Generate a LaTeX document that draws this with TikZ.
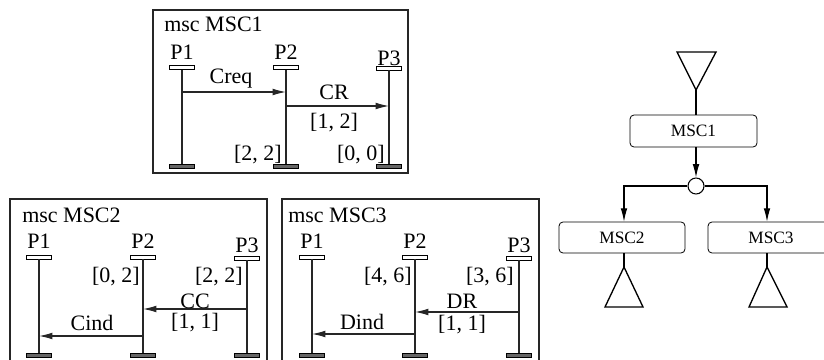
\documentclass[tikz,border=0pt]{standalone}
\usepackage{fontspec}
\setmainfont{Liberation Serif}
\usetikzlibrary{arrows.meta}
\begin{document}
\begin{tikzpicture}[x=0.75pt,y=-0.75pt,
  lbl/.style={font=\fontsize{16.5}{18}\selectfont, inner sep=0},
  frame/.style={draw=black!85, line width=0.8pt},
  headbar/.style={draw, fill=white, minimum width=18.75pt, minimum height=3pt, inner sep=0, line width=0.6pt},
  endbar/.style={draw, fill=black!60, minimum width=18.75pt, minimum height=3pt, inner sep=0, line width=0.6pt},
  life/.style={line width=0.8pt, draw=black!85},
  msg/.style={line width=0.8pt, draw=black!85, -{Latex[length=10pt,width=5pt]}},
  hbox/.style={draw, rounded corners=3pt, font=\fontsize{13}{15}\selectfont, inner sep=0, line width=0.6pt},
  harrow/.style={line width=0.8pt, -{Latex[length=10pt,width=5pt]}},
  hline/.style={line width=0.8pt},
  tri/.style={line width=1pt, line join=miter}
]
\useasboundingbox (0,0) rectangle (824,360);

% ---------------- MSC1 ----------------
\draw[frame] (153,10) rectangle (408,173);
\node[lbl, anchor=base west] (t1) at (164,32) {msc MSC1};
\foreach \n/\x/\yl/\yh in {p1/182/60/67.5, p2/286/60/67.5, p3/389/65/68}{
  \node[lbl, anchor=base] (a\n l) at (\x,\yl) {\MakeUppercase{\n}};
  \node[headbar] (a\n h) at (\x,\yh) {};
  \node[endbar] (a\n e) at (\x,166) {};
  \draw[life] (a\n h.south) -- (a\n e.north);
}
\coordinate (a1s) at (182,92);
\coordinate (a1t) at (286,92);
\draw[msg] (a1s) -- (a1t);
\node[lbl, anchor=base] (creq) at (231,84) {Creq};
\coordinate (a2s) at (286,106);
\coordinate (a2t) at (389,106);
\draw[msg] (a2s) -- (a2t);
\node[lbl, anchor=base] (cr) at (334,99) {CR};
\node[lbl, anchor=base] (cr2) at (334,128) {[1, 2]};
\node[lbl, anchor=base east] (c22) at (282,160) {[2, 2]};
\node[lbl, anchor=base east] (c00) at (385,160) {[0, 0]};

% ---------------- MSC2 ----------------
\draw[frame] (10,362) -- (10,199) -- (267,199) -- (267,362);
\node[lbl, anchor=base west] (t2) at (22,222) {msc MSC2};
\foreach \n/\x/\yl/\yh in {p1/39/248/257, p2/143/248/257, p3/247/252/258}{
  \node[lbl, anchor=base] (b\n l) at (\x,\yl) {\MakeUppercase{\n}};
  \node[headbar] (b\n h) at (\x,\yh) {};
  \node[endbar] (b\n e) at (\x,355) {};
  \draw[life] (b\n h.south) -- (b\n e.north);
}
\node[lbl, anchor=base east] (b02) at (140,282) {[0, 2]};
\node[lbl, anchor=base east] (b22) at (243,282) {[2, 2]};
\coordinate (b1s) at (247,309);
\coordinate (b1t) at (143,309);
\draw[msg] (b1s) -- (b1t);
\node[lbl, anchor=base] (cc) at (195,308) {CC};
\node[lbl, anchor=base] (cc2) at (195,328) {[1, 1]};
\coordinate (b2s) at (143,336);
\coordinate (b2t) at (39,336);
\draw[msg] (b2s) -- (b2t);
\node[lbl, anchor=base] (cind) at (92,330) {Cind};

% ---------------- MSC3 ----------------
\draw[frame] (282,362) -- (282,199) -- (539,199) -- (539,362);
\node[lbl, anchor=base west] (t3) at (288,222) {msc MSC3};
\foreach \n/\x/\yl/\yh in {p1/312/248/257, p2/415/248/257, p3/519/252/258}{
  \node[lbl, anchor=base] (c\n l) at (\x,\yl) {\MakeUppercase{\n}};
  \node[headbar] (c\n h) at (\x,\yh) {};
  \node[endbar] (c\n e) at (\x,355) {};
  \draw[life] (c\n h.south) -- (c\n e.north);
}
\node[lbl, anchor=base east] (c46) at (412,282) {[4, 6]};
\node[lbl, anchor=base east] (c36) at (514,282) {[3, 6]};
\coordinate (c1s) at (519,312);
\coordinate (c1t) at (415,312);
\draw[msg] (c1s) -- (c1t);
\node[lbl, anchor=base] (dr) at (462,308) {DR};
\node[lbl, anchor=base] (dr2) at (462,330) {[1, 1]};
\coordinate (c2s) at (415,334);
\coordinate (c2t) at (312,334);
\draw[msg] (c2s) -- (c2t);
\node[lbl, anchor=base] (dind) at (362,329) {Dind};

% ---------------- HMSC ----------------
\coordinate (st) at (696,90);
\draw[tri] (677,52) -- (716,52) -- (st) -- cycle;
\node[hbox, minimum width=95.25pt, minimum height=24pt] (h1) at (693.5,131) {MSC1};
\draw[hline] (st) -- (h1.north -| st);
\node[draw, circle, minimum size=12pt, inner sep=0, line width=0.8pt] (cond) at (696,186) {};
\draw[harrow] (h1.south -| cond) -- (cond.north);
\node[hbox, minimum width=94.5pt, minimum height=23.25pt] (h2) at (622,237.5) {MSC2};
\node[hbox, minimum width=94.5pt, minimum height=23.25pt] (h3) at (771,237.5) {MSC3};
\coordinate (l2) at (624,186);
\coordinate (l3) at (767,186);
\draw[harrow] (cond.west) -- (l2) -- (l2 |- h2.north);
\draw[harrow] (cond.east) -- (l3) -- (l3 |- h3.north);
\coordinate (e2) at (624,267);
\coordinate (e3) at (767,267);
\draw[hline] (l2 |- h2.south) -- (e2);
\draw[hline] (l3 |- h3.south) -- (e3);
\draw[tri] (e2) -- (643,307) -- (605,307) -- cycle;
\draw[tri] (e3) -- (787,307) -- (749,307) -- cycle;
\end{tikzpicture}
\end{document}
